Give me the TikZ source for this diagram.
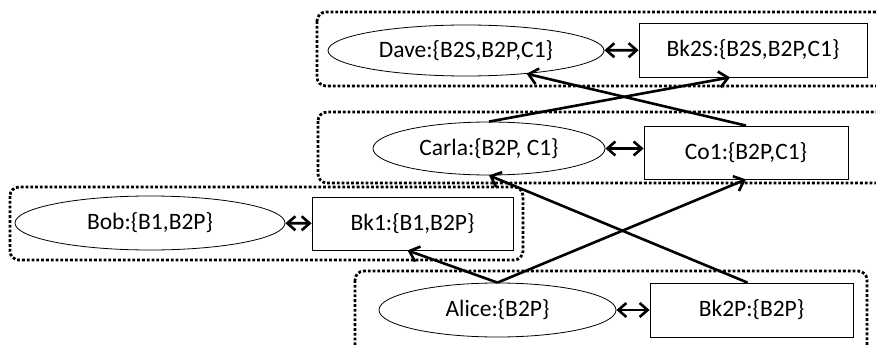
\documentclass[tikz,border=0pt]{standalone}
\usepackage{fontspec}
\setmainfont{Carlito}
\usepackage{tikz}
\usetikzlibrary{arrows.meta}
\usetikzlibrary{shapes}

\tikzset{
  agent/.style={ellipse, draw, line width=0.8pt, inner sep=0pt},
  bank/.style={rectangle, draw, line width=0.8pt, inner sep=0pt},
  group/.style={line width=2.8pt, dash pattern=on 2.8pt off 2pt, rounded corners=9pt},
  link/.style={line width=2.6pt, -{Straight Barb[length=9pt,width=16pt]}},
  sync/.style={line width=2.6pt, {Straight Barb[length=8pt,width=14pt]}-{Straight Barb[length=8pt,width=14pt]}},
}

\begin{document}
\begin{tikzpicture}[x=1pt, y=-1pt, font=\fontsize{23.5}{28}\selectfont]
    \useasboundingbox (0,0) rectangle (876,345);

    % groups
    \draw[group] (317,12) rectangle (900,86);
    \draw[group] (318,112) rectangle (900,183);
    \draw[group] (10,187) rectangle (523,260);
    \draw[group] (355,271) rectangle (867,370);

    \node[agent, minimum width=276pt, minimum height=51pt] (dave) at (466,50.5) {Dave:\{B2S,B2P,C1\}};
    \node[bank, minimum width=228pt, minimum height=54pt] (bk2s) at (753,50) {Bk2S:\{B2S,B2P,C1\}};
    \node[agent, minimum width=232pt, minimum height=53pt] (carla) at (489,148.5) {Carla:\{B2P, C1\}};
    \node[bank, minimum width=204pt, minimum height=53pt] (co1) at (746,152.5) {Co1:\{B2P,C1\}};
    \node[agent, minimum width=270pt, minimum height=54pt] (bob) at (150,223) {Bob:\{B1,B2P\}};
    \node[bank, minimum width=201pt, minimum height=53pt] (bk1) at (412.5,223.5) {Bk1:\{B1,B2P\}};
    \node[agent, minimum width=237pt, minimum height=54pt] (alice) at (497.5,310) {Alice:\{B2P\}};
    \node[bank, minimum width=203pt, minimum height=54pt] (bk2p) at (751.5,310) {Bk2P:\{B2P\}};

    \draw[sync] (dave) -- (bk2s);
    \draw[sync] (carla.east) -- (carla.east -| co1.west);
    \draw[sync] (bob) -- (bk1);
    \draw[sync] (alice) -- (bk2p);

    \draw[link] (alice.north) -- ([xshift=-5pt]bk1.south);
    \draw[link] (alice.north) -- (co1.south);
    \draw[link] ([xshift=-4pt]bk2p.north) -- (carla.south);
    \draw[link] (carla.north) -- ([xshift=-23pt]bk2s.south);
    \draw[link] (co1.north) -- (dave.-21);

\end{tikzpicture}
\end{document}
